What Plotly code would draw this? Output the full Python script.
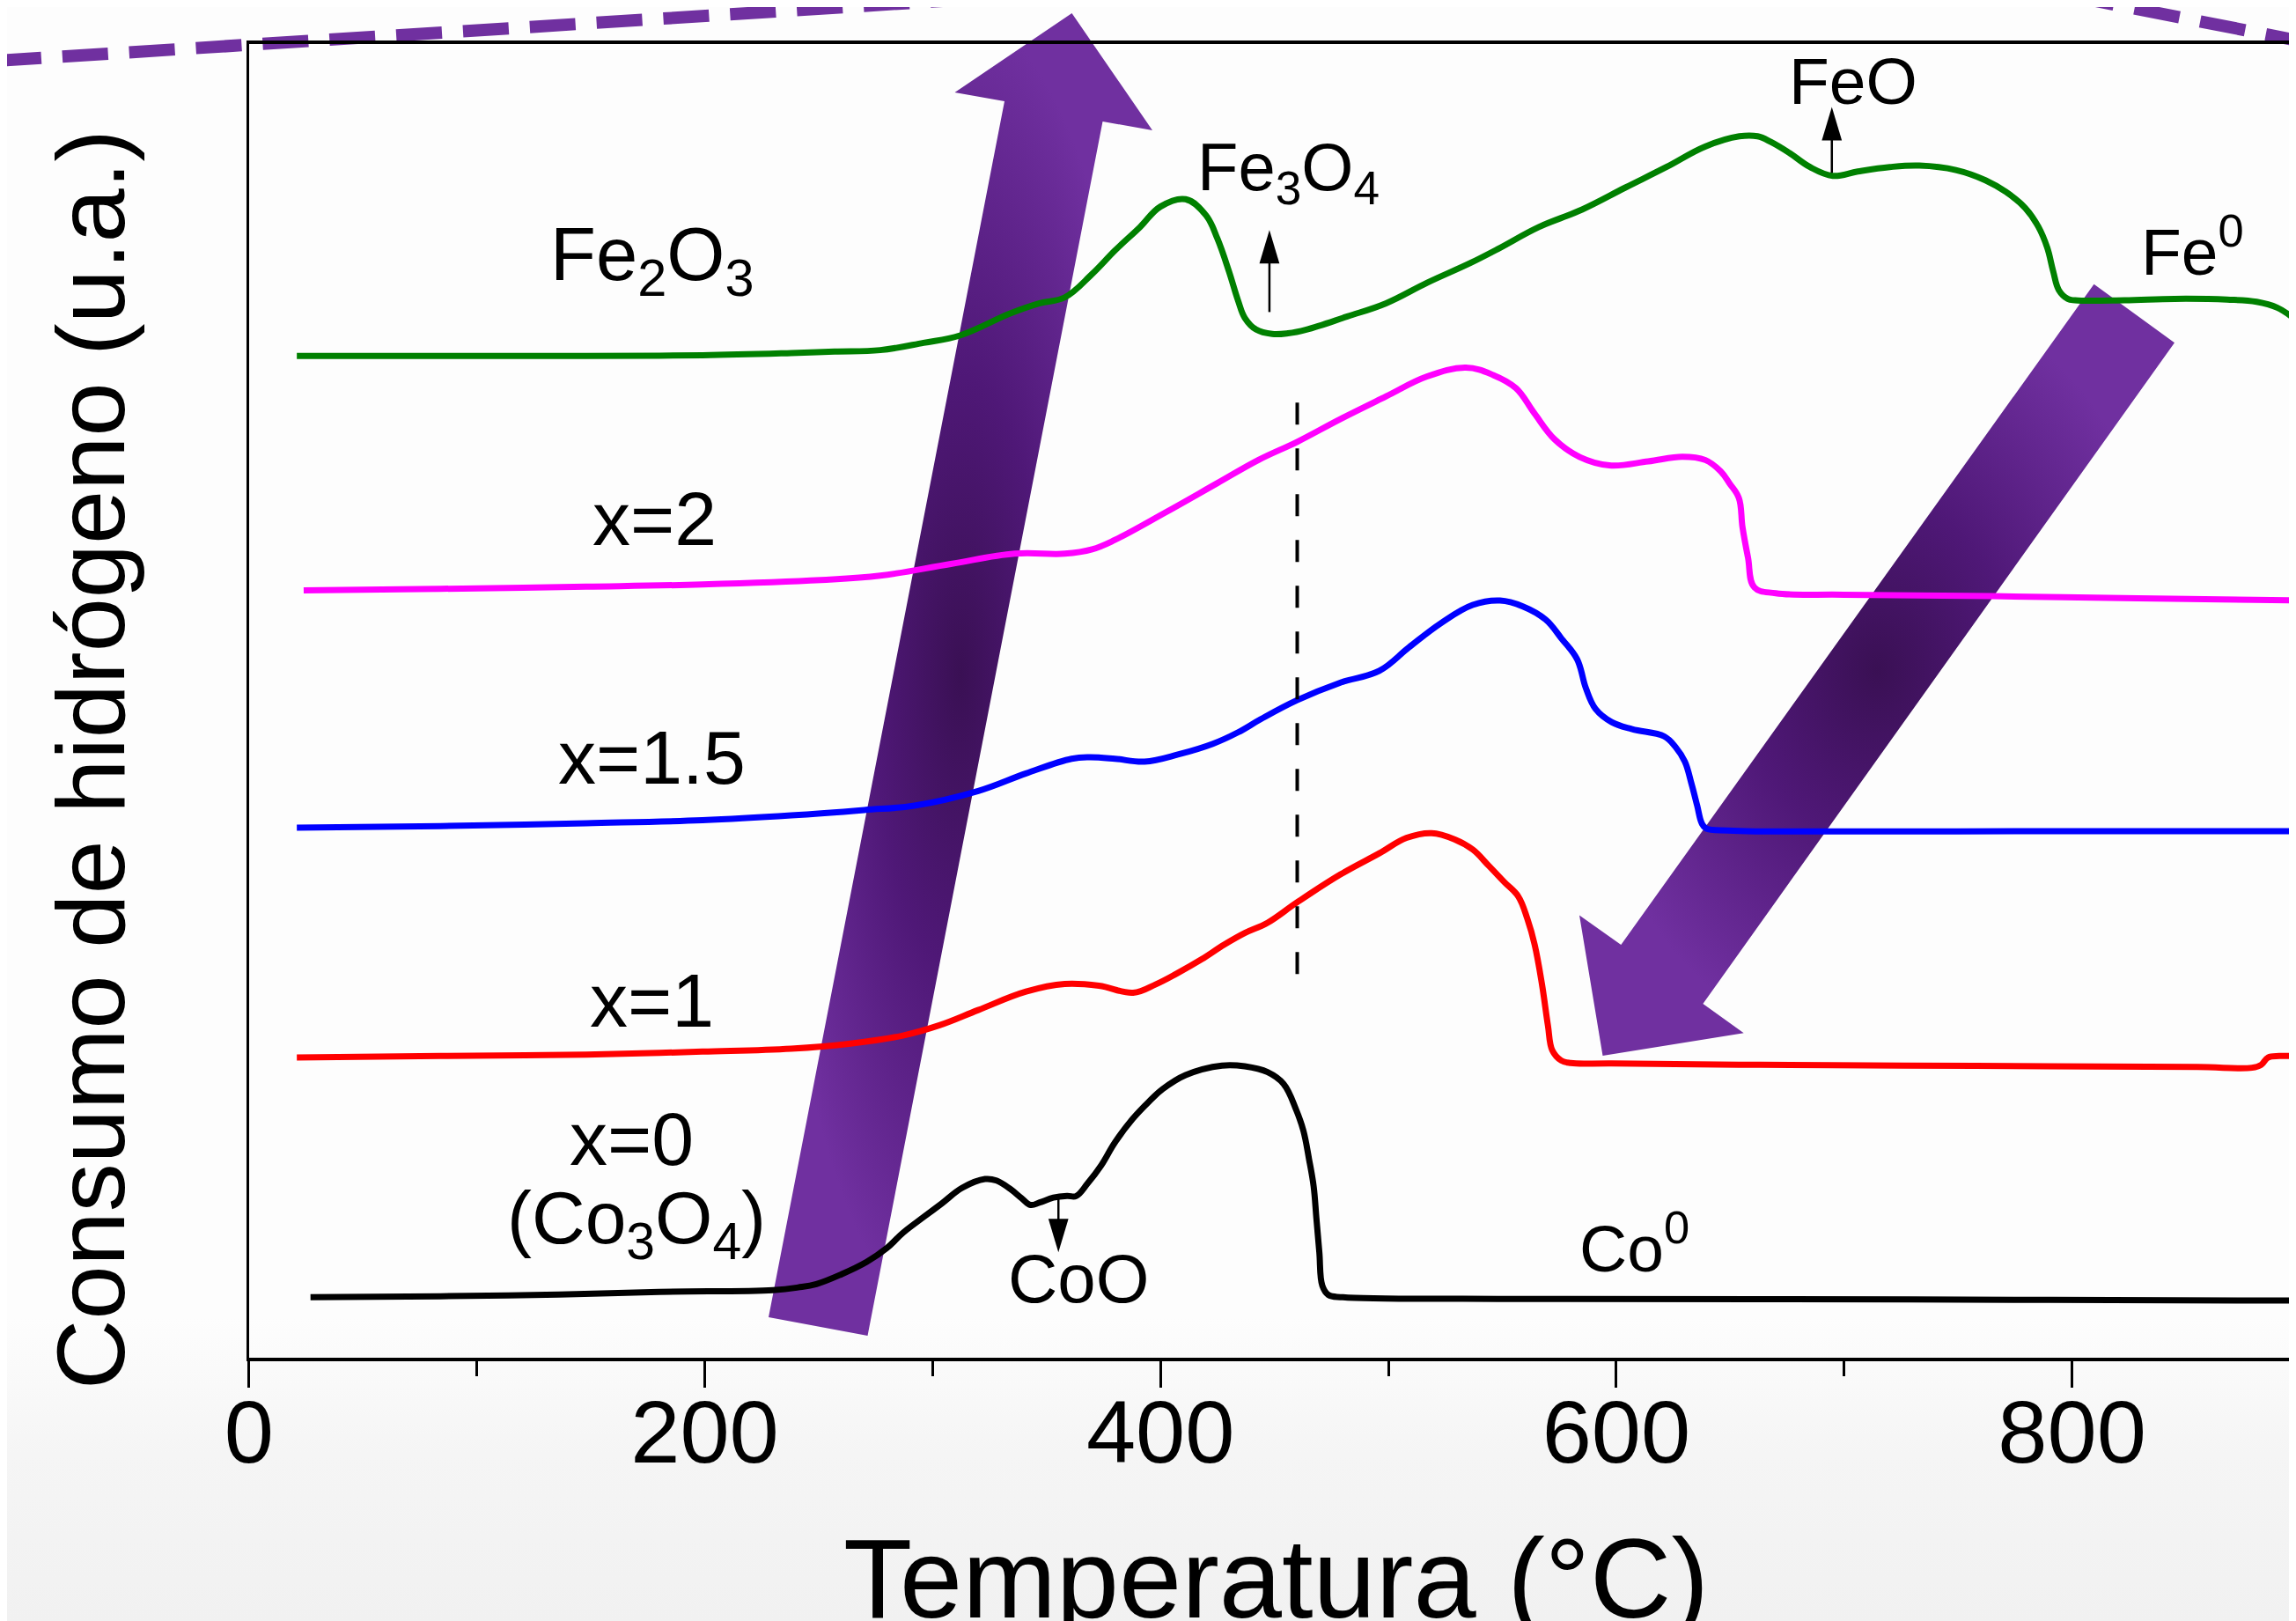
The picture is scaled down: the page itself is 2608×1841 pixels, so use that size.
import plotly.graph_objects as go

W, H = 2608, 1841

# ---------------- data (temperature in °C, signal in a.u.) ----------------
T_fe2o3 = [21, 84, 148, 199, 238, 257, 277, 296, 312, 334, 347, 358, 370, 380, 391, 400, 411, 420, 425, 430,
           434, 437, 442, 449, 456, 464, 482, 499, 517, 536, 548, 566, 585, 604, 622, 639, 654, 662, 668, 676,
           685, 695, 706, 720, 733, 749, 762, 771, 779.5, 785.3, 789.1, 791.7, 794.2, 798.1, 801.3, 823, 845, 868,
           881, 890, 898]
H_fe2o3 = [684, 684, 684, 684.5, 686, 687, 688, 693, 698, 713, 720, 724, 740, 756, 772, 786, 791, 780, 764, 742,
           722, 710, 702, 699, 699.5, 702, 711, 720, 734, 747.5, 757, 772, 784, 799, 813, 827, 834, 834, 830, 822.6,
           813, 807, 810, 813, 814, 811, 804, 796, 785, 772, 758, 742, 729, 723, 722, 722, 723, 722.5,
           721, 717, 709]

T_x2 = [24, 84, 148, 199, 251, 277, 308, 336, 358, 370, 380, 402, 425, 443, 460, 479, 499, 517, 534, 546,
        556, 564, 573, 584, 597, 614, 629, 639, 645.8, 649.7, 653.8, 655.4, 657.8, 660.6, 670, 700, 765, 829, 898]
H_x2 = [524, 525, 526.5, 528, 531, 534, 542, 549, 549, 552, 558.4, 577, 597.2, 613, 625.4, 641, 656.4, 670, 676, 671,
        662, 645, 627, 615, 609.3, 612, 615.2, 613, 605.3, 597, 587, 567, 546.4, 526, 522, 521, 520, 518.5, 517.2]

T_x15 = [21, 84, 148, 199, 238, 270, 292, 320, 341, 361, 369, 380, 393, 408, 423, 434, 444, 460, 479, 496,
         509, 523, 537, 549, 559, 569, 576, 582.8, 586.7, 590.9, 598, 607, 621, 626, 630.1, 633.0, 635.5, 637.5,
         639.4, 649, 663, 790, 898]
H_x15 = [362, 363, 365, 367, 370.3, 374, 377, 387, 399, 409, 410, 409, 407, 412, 419.2, 427, 436, 449, 461, 469,
         485, 501.5, 514, 517, 513, 504, 491, 477, 457, 443, 434, 429.2, 424.3, 417, 407, 392, 377, 365,
         361.4, 360, 359.4, 359.5, 359.5]

T_x1 = [21, 84, 148, 199, 238, 264, 287, 303, 320, 341, 358, 373, 388, 398, 407, 418, 428, 437, 447, 460,
        479, 496, 508, 519, 529, 537, 544, 551, 557, 561.0, 564.2, 567.4, 570.0, 571.9, 575.8, 580, 598, 663, 726, 790,
        855, 879, 883, 886, 891, 898]
H_x1 = [205, 206, 207, 209, 211, 214.5, 220, 227, 237.4, 250, 255.2, 254, 249.2, 255, 262.2, 272, 282.1, 290, 297, 311,
        330, 344.4, 355, 358.2, 354, 347, 336, 324.6, 315, 299.6, 282, 255, 227, 210, 203, 201.2, 201, 200, 199.5, 199,
        198.5, 198, 200, 205, 206, 206]

T_x0 = [27, 84, 136, 180, 230, 241, 249, 260, 271, 280, 287, 296, 304, 313, 323, 328, 334, 339, 343, 347,
        353, 359, 363, 368, 374, 380, 388, 395, 401, 411, 427, 437, 447, 454, 459.5, 462.7, 465.2, 467.2, 468.4, 469.7,
        471.0, 473.6, 480, 548, 662, 790, 898]
H_x0 = [41.3, 42, 43.2, 45, 46.2, 48, 50.3, 57, 65.4, 75, 85.3, 96, 105.3, 116, 122, 121, 115.3, 109, 104.3, 106,
        109.3, 110.5, 110.4, 119, 131.4, 147, 163.5, 175, 183.5, 193, 199.5, 199, 195, 187, 169.4, 155, 135.4, 117, 95.4, 72,
        49.2, 43, 41.3, 40.2, 40, 39.5, 39]

x_tick_vals = [0, 200, 400, 600, 800]
x_tick_text = ["0", "200", "400", "600", "800"]

series = [
    (T_fe2o3, H_fe2o3, "#008000"),
    (T_x2, H_x2, "#ff00ff"),
    (T_x15, H_x15, "#0000ff"),
    (T_x1, H_x1, "#ff0000"),
    (T_x0, H_x0, "#000000"),
]

FONT = "Liberation Sans, Arial, sans-serif"

# ---------------- layout geometry (screen pixels) ----------------
OFF = 8                      # page body margin that shifts the figure
PLOT_L, PLOT_T, PLOT_B = 282.8, 49.5, 1542.0
PX_PER_DEG = 2.5885
X_MAX = (W + OFF - PLOT_L) / PX_PER_DEG
Y_MAX = 897.3

def up(yscreen):
    return H - yscreen

def px(xs):
    return (xs - OFF) / W

def py(ys):
    return 1 - (ys - OFF) / H

fig = go.Figure()

# ---- slide decorations on a full-canvas pixel subplot (drawn underneath the data) ----
fig.add_trace(go.Scatter(
    x=[0, W + OFF, W + OFF, 0, 0], y=[-OFF, -OFF, 345, 345, -OFF], mode="none", fill="toself",
    fillgradient=dict(type="vertical", start=0, stop=345,
                      colorscale=[[0, "#f1f1f1"], [0.55, "#f5f5f5"], [1, "#fdfdfd"]]),
    hoverinfo="skip", showlegend=False, xaxis="x", yaxis="y"))

up_arrow = [(873, 1496), (1141, 115), (1084.5, 105), (1217.5, 15), (1309, 148), (1252.5, 138), (985.5, 1517)]
down_arrow = [(2378.5, 322.7), (2470, 389.2), (1934.4, 1139.9), (1980.7, 1173.3), (1820.5, 1198.9),
              (1794, 1039.6), (1841.3, 1072.9)]
purple_scale = [[0, "#3a1054"], [0.45, "#4f1877"], [1, "#7030a0"]]
for poly in (up_arrow, down_arrow):
    xs = [p[0] for p in poly] + [poly[0][0]]
    ys = [up(p[1]) for p in poly] + [up(poly[0][1])]
    fig.add_trace(go.Scatter(
        x=xs, y=ys, mode="none", fill="toself",
        fillgradient=dict(type="radial", colorscale=purple_scale),
        hoverinfo="skip", showlegend=False, xaxis="x", yaxis="y"))

for (xa, ya, xb, yb) in [(-5, 69, 1150, -4), (2350, -5, 2620, 48)]:
    fig.add_trace(go.Scatter(
        x=[xa, xb], y=[up(ya), up(yb)], mode="lines",
        line=dict(color="#7030a0", width=14, dash="52px,24px"),
        hoverinfo="skip", showlegend=False, xaxis="x", yaxis="y"))

# ---- TPR curves ----
for t, v, c in series:
    fig.add_trace(go.Scatter(
        x=t, y=v, mode="lines",
        line=dict(color=c, width=7, shape="spline", smoothing=1.1),
        hoverinfo="skip", showlegend=False, xaxis="x2", yaxis="y2"))

# ---- annotations inside the plot ----
labels = [
    ("Fe<sub>2</sub>O<sub>3</sub>", 177, 750, 85),
    ("x=2", 178, 573, 86),
    ("x=1.5", 177, 410, 86),
    ("x=1", 177, 244, 86),
    ("x=0", 168, 150, 86),
    ("(Co<sub>3</sub>O<sub>4</sub>)", 170, 92, 84),
    ("Fe<sub>3</sub>O<sub>4</sub>", 456, 810, 76),
    ("FeO", 704, 872, 75),
    ("Fe<sup>0</sup>", 853, 759, 75),
    ("Co<sup>0</sup>", 608, 78, 75),
    ("CoO", 364, 54, 78),
]
annotations = []
for txt, xt, yv, fs in labels:
    annotations.append(dict(text=txt, x=xt, y=yv, xref="x2", yref="y2", showarrow=False,
                            xanchor="center", yanchor="middle",
                            font=dict(family=FONT, size=fs, color="black")))

annotations.append(dict(text="Consumo de hidrógeno (u.a.)", x=px(103), y=py(863),
                        xref="paper", yref="paper", showarrow=False, textangle=-90,
                        xanchor="center", yanchor="middle",
                        font=dict(family=FONT, size=110, color="black")))
annotations.append(dict(text="Temperatura (°C)", x=px(1449), y=py(1792),
                        xref="paper", yref="paper", showarrow=False,
                        xanchor="center", yanchor="middle",
                        font=dict(family=FONT, size=128, color="black")))

# ---- small marker arrows and dashed guide ----
shapes = []
def v_arrow(tx, v_tail, v_tip):
    d = 1 if v_tip > v_tail else -1
    head = 22.8
    hw = 4.4
    shapes.append(dict(type="line", xref="x2", yref="y2", x0=tx, x1=tx, y0=v_tail, y1=v_tip - d * head * 0.8,
                       line=dict(color="black", width=2.5)))
    shapes.append(dict(type="path", xref="x2", yref="y2",
                       path=f"M {tx},{v_tip} L {tx - hw},{v_tip - d * head} L {tx + hw},{v_tip - d * head} Z",
                       fillcolor="black", line=dict(width=0)))

v_arrow(447.8, 714, 770)
v_arrow(694.6, 809, 854)
v_arrow(355.2, 109, 72)
shapes.append(dict(type="line", xref="x2", yref="y2", x0=460, x1=460, y0=262, y1=657,
                   line=dict(color="black", width=4, dash="25px,27px")))

fig.update_layout(
    width=W, height=H,
    margin=dict(l=0, r=0, t=0, b=0, pad=0, autoexpand=False),
    paper_bgcolor="#fdfdfd", plot_bgcolor="rgba(0,0,0,0)",
    showlegend=False,
    xaxis=dict(domain=[0, 1], range=[OFF, W + OFF], visible=False, fixedrange=True, automargin=False),
    yaxis=dict(domain=[0, 1], range=[-OFF, H - OFF], visible=False, fixedrange=True, automargin=False),
    xaxis2=dict(domain=[px(PLOT_L), 1], range=[0, X_MAX], anchor="y2", automargin=False,
                showline=True, linecolor="black", linewidth=4, mirror=True,
                ticks="outside", ticklen=30, tickwidth=3, tickcolor="black",
                tickmode="array", tickvals=x_tick_vals, ticktext=x_tick_text,
                tickfont=dict(family=FONT, size=101, color="black"), ticklabelstandoff=-36,
                minor=dict(ticks="outside", ticklen=17, tickwidth=3, tickcolor="black", dtick=100, tick0=0),
                showgrid=False, zeroline=False),
    yaxis2=dict(domain=[py(PLOT_B), py(PLOT_T)], range=[0, Y_MAX], anchor="x2", automargin=False,
                showline=True, linecolor="black", linewidth=3, mirror=False,
                ticks="", showticklabels=False, showgrid=False, zeroline=False),
    annotations=annotations,
    shapes=shapes,
)

fig.write_html("out.html")
